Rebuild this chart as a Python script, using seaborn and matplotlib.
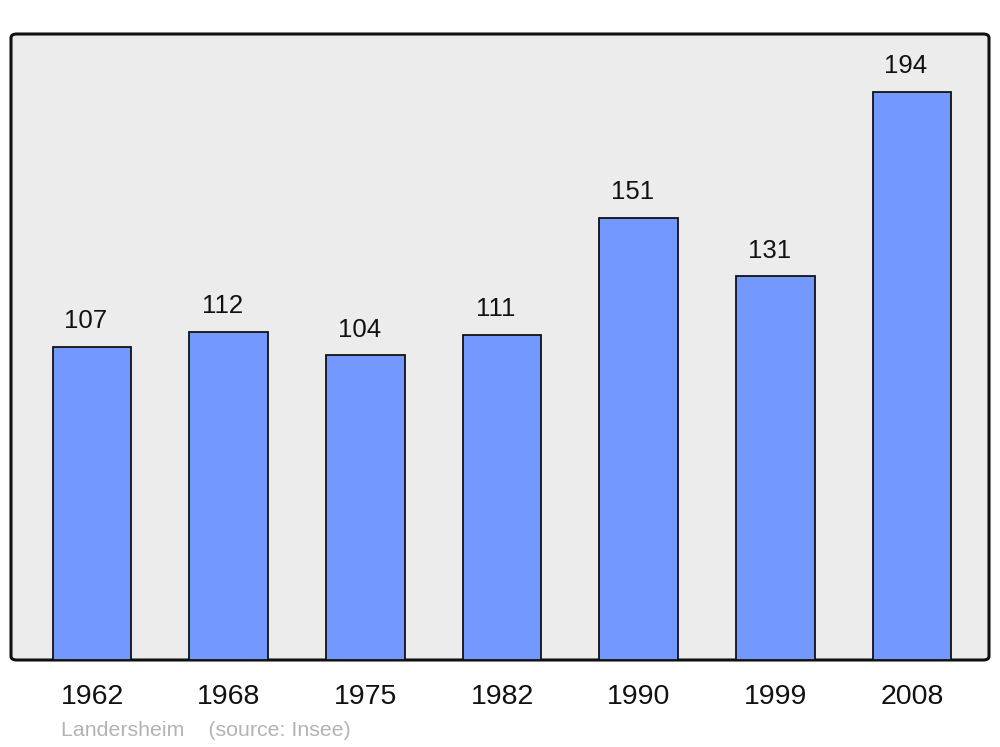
import pandas as pd
import numpy as np
import seaborn as sns
import matplotlib.pyplot as plt
from matplotlib.patches import FancyBboxPatch

years = ['1962', '1968', '1975', '1982', '1990', '1999', '2008']
population = [107, 112, 104, 111, 151, 131, 194]

sns.set_style('white')
plt.rcParams['font.family'] = ['Liberation Sans', 'DejaVu Sans']

df = pd.DataFrame({'year': years, 'pop': population})

fig = plt.figure(figsize=(10, 7.47), dpi=100)
ax = fig.add_axes([0.011, 1 - 660 / 747, 0.978, (660 - 34) / 747])
ax.set_facecolor('none')

# rounded frame behind the bars
frame = FancyBboxPatch((0, 0), 1, 1, boxstyle='round,pad=0,rounding_size=0.006',
                       transform=ax.transAxes, facecolor='#ececec', edgecolor='#111111',
                       linewidth=2.2, clip_on=False, zorder=0)
ax.add_patch(frame)

sns.barplot(data=df, x='year', y='pop', color='#7399ff', saturation=1, width=0.575,
            edgecolor='#111111', linewidth=1.3, ax=ax, zorder=2)

for i, v in enumerate(population):
    ax.annotate(str(v), (i, v), xytext=(-4.5, 10), textcoords='offset points',
                ha='center', va='bottom', fontsize=18.5, color='#111111')

ax.set_xlim(-0.593, 6.563)
ax.set_ylim(0, 213.8)
ax.set_yticks([])
ax.set_xlabel('')
ax.set_ylabel('')
for s in ax.spines.values():
    s.set_visible(False)
ax.tick_params(axis='x', length=0, pad=17.5, labelsize=20.5, labelcolor='#111111')

fig.text(0.061, 1 - 731 / 747, 'Landersheim    (source: Insee)', fontsize=15.4,
         color='#b3b3b3', ha='left', va='center')

plt.savefig('out.png', dpi=100)
